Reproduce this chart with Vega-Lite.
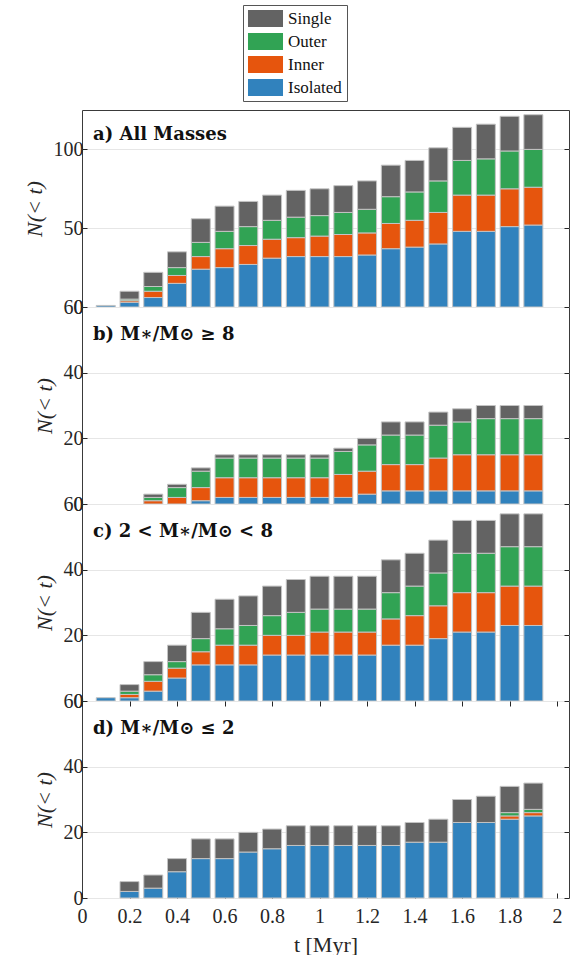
{
  "$schema": "https://vega.github.io/schema/vega-lite/v6.json",
  "padding": {"left": 22, "top": 4, "right": 4, "bottom": 3},
  "spacing": 0,
  "bounds": "flush",
  "data": {"values": [
    {"p":"a","t":0.1,"c":"Isolated","n":1},
    {"p":"a","t":0.2,"c":"Isolated","n":3},{"p":"a","t":0.2,"c":"Inner","n":1},{"p":"a","t":0.2,"c":"Outer","n":1},{"p":"a","t":0.2,"c":"Single","n":5},
    {"p":"a","t":0.3,"c":"Isolated","n":6},{"p":"a","t":0.3,"c":"Inner","n":4},{"p":"a","t":0.3,"c":"Outer","n":3},{"p":"a","t":0.3,"c":"Single","n":9},
    {"p":"a","t":0.4,"c":"Isolated","n":15},{"p":"a","t":0.4,"c":"Inner","n":5},{"p":"a","t":0.4,"c":"Outer","n":5},{"p":"a","t":0.4,"c":"Single","n":10},
    {"p":"a","t":0.5,"c":"Isolated","n":24},{"p":"a","t":0.5,"c":"Inner","n":8},{"p":"a","t":0.5,"c":"Outer","n":9},{"p":"a","t":0.5,"c":"Single","n":15},
    {"p":"a","t":0.6,"c":"Isolated","n":25},{"p":"a","t":0.6,"c":"Inner","n":12},{"p":"a","t":0.6,"c":"Outer","n":11},{"p":"a","t":0.6,"c":"Single","n":16},
    {"p":"a","t":0.7,"c":"Isolated","n":27},{"p":"a","t":0.7,"c":"Inner","n":12},{"p":"a","t":0.7,"c":"Outer","n":12},{"p":"a","t":0.7,"c":"Single","n":16},
    {"p":"a","t":0.8,"c":"Isolated","n":31},{"p":"a","t":0.8,"c":"Inner","n":12},{"p":"a","t":0.8,"c":"Outer","n":12},{"p":"a","t":0.8,"c":"Single","n":16},
    {"p":"a","t":0.9,"c":"Isolated","n":32},{"p":"a","t":0.9,"c":"Inner","n":12},{"p":"a","t":0.9,"c":"Outer","n":13},{"p":"a","t":0.9,"c":"Single","n":17},
    {"p":"a","t":1.0,"c":"Isolated","n":32},{"p":"a","t":1.0,"c":"Inner","n":13},{"p":"a","t":1.0,"c":"Outer","n":13},{"p":"a","t":1.0,"c":"Single","n":17},
    {"p":"a","t":1.1,"c":"Isolated","n":32},{"p":"a","t":1.1,"c":"Inner","n":14},{"p":"a","t":1.1,"c":"Outer","n":14},{"p":"a","t":1.1,"c":"Single","n":17},
    {"p":"a","t":1.2,"c":"Isolated","n":33},{"p":"a","t":1.2,"c":"Inner","n":14},{"p":"a","t":1.2,"c":"Outer","n":15},{"p":"a","t":1.2,"c":"Single","n":18},
    {"p":"a","t":1.3,"c":"Isolated","n":37},{"p":"a","t":1.3,"c":"Inner","n":16},{"p":"a","t":1.3,"c":"Outer","n":17},{"p":"a","t":1.3,"c":"Single","n":20},
    {"p":"a","t":1.4,"c":"Isolated","n":38},{"p":"a","t":1.4,"c":"Inner","n":17},{"p":"a","t":1.4,"c":"Outer","n":18},{"p":"a","t":1.4,"c":"Single","n":20},
    {"p":"a","t":1.5,"c":"Isolated","n":40},{"p":"a","t":1.5,"c":"Inner","n":20},{"p":"a","t":1.5,"c":"Outer","n":20},{"p":"a","t":1.5,"c":"Single","n":21},
    {"p":"a","t":1.6,"c":"Isolated","n":48},{"p":"a","t":1.6,"c":"Inner","n":23},{"p":"a","t":1.6,"c":"Outer","n":22},{"p":"a","t":1.6,"c":"Single","n":21},
    {"p":"a","t":1.7,"c":"Isolated","n":48},{"p":"a","t":1.7,"c":"Inner","n":23},{"p":"a","t":1.7,"c":"Outer","n":23},{"p":"a","t":1.7,"c":"Single","n":22},
    {"p":"a","t":1.8,"c":"Isolated","n":51},{"p":"a","t":1.8,"c":"Inner","n":24},{"p":"a","t":1.8,"c":"Outer","n":24},{"p":"a","t":1.8,"c":"Single","n":22},
    {"p":"a","t":1.9,"c":"Isolated","n":52},{"p":"a","t":1.9,"c":"Inner","n":24},{"p":"a","t":1.9,"c":"Outer","n":24},{"p":"a","t":1.9,"c":"Single","n":22},

    {"p":"b","t":0.3,"c":"Inner","n":1},{"p":"b","t":0.3,"c":"Outer","n":1},{"p":"b","t":0.3,"c":"Single","n":1},
    {"p":"b","t":0.4,"c":"Inner","n":2},{"p":"b","t":0.4,"c":"Outer","n":3},{"p":"b","t":0.4,"c":"Single","n":1},
    {"p":"b","t":0.5,"c":"Isolated","n":1},{"p":"b","t":0.5,"c":"Inner","n":4},{"p":"b","t":0.5,"c":"Outer","n":5},{"p":"b","t":0.5,"c":"Single","n":1},
    {"p":"b","t":0.6,"c":"Isolated","n":2},{"p":"b","t":0.6,"c":"Inner","n":6},{"p":"b","t":0.6,"c":"Outer","n":6},{"p":"b","t":0.6,"c":"Single","n":1},
    {"p":"b","t":0.7,"c":"Isolated","n":2},{"p":"b","t":0.7,"c":"Inner","n":6},{"p":"b","t":0.7,"c":"Outer","n":6},{"p":"b","t":0.7,"c":"Single","n":1},
    {"p":"b","t":0.8,"c":"Isolated","n":2},{"p":"b","t":0.8,"c":"Inner","n":6},{"p":"b","t":0.8,"c":"Outer","n":6},{"p":"b","t":0.8,"c":"Single","n":1},
    {"p":"b","t":0.9,"c":"Isolated","n":2},{"p":"b","t":0.9,"c":"Inner","n":6},{"p":"b","t":0.9,"c":"Outer","n":6},{"p":"b","t":0.9,"c":"Single","n":1},
    {"p":"b","t":1.0,"c":"Isolated","n":2},{"p":"b","t":1.0,"c":"Inner","n":6},{"p":"b","t":1.0,"c":"Outer","n":6},{"p":"b","t":1.0,"c":"Single","n":1},
    {"p":"b","t":1.1,"c":"Isolated","n":2},{"p":"b","t":1.1,"c":"Inner","n":7},{"p":"b","t":1.1,"c":"Outer","n":7},{"p":"b","t":1.1,"c":"Single","n":1},
    {"p":"b","t":1.2,"c":"Isolated","n":3},{"p":"b","t":1.2,"c":"Inner","n":7},{"p":"b","t":1.2,"c":"Outer","n":8},{"p":"b","t":1.2,"c":"Single","n":2},
    {"p":"b","t":1.3,"c":"Isolated","n":4},{"p":"b","t":1.3,"c":"Inner","n":8},{"p":"b","t":1.3,"c":"Outer","n":9},{"p":"b","t":1.3,"c":"Single","n":4},
    {"p":"b","t":1.4,"c":"Isolated","n":4},{"p":"b","t":1.4,"c":"Inner","n":8},{"p":"b","t":1.4,"c":"Outer","n":9},{"p":"b","t":1.4,"c":"Single","n":4},
    {"p":"b","t":1.5,"c":"Isolated","n":4},{"p":"b","t":1.5,"c":"Inner","n":10},{"p":"b","t":1.5,"c":"Outer","n":10},{"p":"b","t":1.5,"c":"Single","n":4},
    {"p":"b","t":1.6,"c":"Isolated","n":4},{"p":"b","t":1.6,"c":"Inner","n":11},{"p":"b","t":1.6,"c":"Outer","n":10},{"p":"b","t":1.6,"c":"Single","n":4},
    {"p":"b","t":1.7,"c":"Isolated","n":4},{"p":"b","t":1.7,"c":"Inner","n":11},{"p":"b","t":1.7,"c":"Outer","n":11},{"p":"b","t":1.7,"c":"Single","n":4},
    {"p":"b","t":1.8,"c":"Isolated","n":4},{"p":"b","t":1.8,"c":"Inner","n":11},{"p":"b","t":1.8,"c":"Outer","n":11},{"p":"b","t":1.8,"c":"Single","n":4},
    {"p":"b","t":1.9,"c":"Isolated","n":4},{"p":"b","t":1.9,"c":"Inner","n":11},{"p":"b","t":1.9,"c":"Outer","n":11},{"p":"b","t":1.9,"c":"Single","n":4},

    {"p":"c","t":0.1,"c":"Isolated","n":1},
    {"p":"c","t":0.2,"c":"Isolated","n":1},{"p":"c","t":0.2,"c":"Inner","n":1},{"p":"c","t":0.2,"c":"Outer","n":1},{"p":"c","t":0.2,"c":"Single","n":2},
    {"p":"c","t":0.3,"c":"Isolated","n":3},{"p":"c","t":0.3,"c":"Inner","n":3},{"p":"c","t":0.3,"c":"Outer","n":2},{"p":"c","t":0.3,"c":"Single","n":4},
    {"p":"c","t":0.4,"c":"Isolated","n":7},{"p":"c","t":0.4,"c":"Inner","n":3},{"p":"c","t":0.4,"c":"Outer","n":2},{"p":"c","t":0.4,"c":"Single","n":5},
    {"p":"c","t":0.5,"c":"Isolated","n":11},{"p":"c","t":0.5,"c":"Inner","n":4},{"p":"c","t":0.5,"c":"Outer","n":4},{"p":"c","t":0.5,"c":"Single","n":8},
    {"p":"c","t":0.6,"c":"Isolated","n":11},{"p":"c","t":0.6,"c":"Inner","n":6},{"p":"c","t":0.6,"c":"Outer","n":5},{"p":"c","t":0.6,"c":"Single","n":9},
    {"p":"c","t":0.7,"c":"Isolated","n":11},{"p":"c","t":0.7,"c":"Inner","n":6},{"p":"c","t":0.7,"c":"Outer","n":6},{"p":"c","t":0.7,"c":"Single","n":9},
    {"p":"c","t":0.8,"c":"Isolated","n":14},{"p":"c","t":0.8,"c":"Inner","n":6},{"p":"c","t":0.8,"c":"Outer","n":6},{"p":"c","t":0.8,"c":"Single","n":9},
    {"p":"c","t":0.9,"c":"Isolated","n":14},{"p":"c","t":0.9,"c":"Inner","n":6},{"p":"c","t":0.9,"c":"Outer","n":7},{"p":"c","t":0.9,"c":"Single","n":10},
    {"p":"c","t":1.0,"c":"Isolated","n":14},{"p":"c","t":1.0,"c":"Inner","n":7},{"p":"c","t":1.0,"c":"Outer","n":7},{"p":"c","t":1.0,"c":"Single","n":10},
    {"p":"c","t":1.1,"c":"Isolated","n":14},{"p":"c","t":1.1,"c":"Inner","n":7},{"p":"c","t":1.1,"c":"Outer","n":7},{"p":"c","t":1.1,"c":"Single","n":10},
    {"p":"c","t":1.2,"c":"Isolated","n":14},{"p":"c","t":1.2,"c":"Inner","n":7},{"p":"c","t":1.2,"c":"Outer","n":7},{"p":"c","t":1.2,"c":"Single","n":10},
    {"p":"c","t":1.3,"c":"Isolated","n":17},{"p":"c","t":1.3,"c":"Inner","n":8},{"p":"c","t":1.3,"c":"Outer","n":8},{"p":"c","t":1.3,"c":"Single","n":10},
    {"p":"c","t":1.4,"c":"Isolated","n":17},{"p":"c","t":1.4,"c":"Inner","n":9},{"p":"c","t":1.4,"c":"Outer","n":9},{"p":"c","t":1.4,"c":"Single","n":10},
    {"p":"c","t":1.5,"c":"Isolated","n":19},{"p":"c","t":1.5,"c":"Inner","n":10},{"p":"c","t":1.5,"c":"Outer","n":10},{"p":"c","t":1.5,"c":"Single","n":10},
    {"p":"c","t":1.6,"c":"Isolated","n":21},{"p":"c","t":1.6,"c":"Inner","n":12},{"p":"c","t":1.6,"c":"Outer","n":12},{"p":"c","t":1.6,"c":"Single","n":10},
    {"p":"c","t":1.7,"c":"Isolated","n":21},{"p":"c","t":1.7,"c":"Inner","n":12},{"p":"c","t":1.7,"c":"Outer","n":12},{"p":"c","t":1.7,"c":"Single","n":10},
    {"p":"c","t":1.8,"c":"Isolated","n":23},{"p":"c","t":1.8,"c":"Inner","n":12},{"p":"c","t":1.8,"c":"Outer","n":12},{"p":"c","t":1.8,"c":"Single","n":10},
    {"p":"c","t":1.9,"c":"Isolated","n":23},{"p":"c","t":1.9,"c":"Inner","n":12},{"p":"c","t":1.9,"c":"Outer","n":12},{"p":"c","t":1.9,"c":"Single","n":10},

    {"p":"d","t":0.2,"c":"Isolated","n":2},{"p":"d","t":0.2,"c":"Single","n":3},
    {"p":"d","t":0.3,"c":"Isolated","n":3},{"p":"d","t":0.3,"c":"Single","n":4},
    {"p":"d","t":0.4,"c":"Isolated","n":8},{"p":"d","t":0.4,"c":"Single","n":4},
    {"p":"d","t":0.5,"c":"Isolated","n":12},{"p":"d","t":0.5,"c":"Single","n":6},
    {"p":"d","t":0.6,"c":"Isolated","n":12},{"p":"d","t":0.6,"c":"Single","n":6},
    {"p":"d","t":0.7,"c":"Isolated","n":14},{"p":"d","t":0.7,"c":"Single","n":6},
    {"p":"d","t":0.8,"c":"Isolated","n":15},{"p":"d","t":0.8,"c":"Single","n":6},
    {"p":"d","t":0.9,"c":"Isolated","n":16},{"p":"d","t":0.9,"c":"Single","n":6},
    {"p":"d","t":1.0,"c":"Isolated","n":16},{"p":"d","t":1.0,"c":"Single","n":6},
    {"p":"d","t":1.1,"c":"Isolated","n":16},{"p":"d","t":1.1,"c":"Single","n":6},
    {"p":"d","t":1.2,"c":"Isolated","n":16},{"p":"d","t":1.2,"c":"Single","n":6},
    {"p":"d","t":1.3,"c":"Isolated","n":16},{"p":"d","t":1.3,"c":"Single","n":6},
    {"p":"d","t":1.4,"c":"Isolated","n":17},{"p":"d","t":1.4,"c":"Single","n":6},
    {"p":"d","t":1.5,"c":"Isolated","n":17},{"p":"d","t":1.5,"c":"Single","n":7},
    {"p":"d","t":1.6,"c":"Isolated","n":23},{"p":"d","t":1.6,"c":"Single","n":7},
    {"p":"d","t":1.7,"c":"Isolated","n":23},{"p":"d","t":1.7,"c":"Single","n":8},
    {"p":"d","t":1.8,"c":"Isolated","n":24},{"p":"d","t":1.8,"c":"Inner","n":1},{"p":"d","t":1.8,"c":"Outer","n":1},{"p":"d","t":1.8,"c":"Single","n":8},
    {"p":"d","t":1.9,"c":"Isolated","n":25},{"p":"d","t":1.9,"c":"Inner","n":1},{"p":"d","t":1.9,"c":"Outer","n":1},{"p":"d","t":1.9,"c":"Single","n":8}
  ]},
  "transform": [{"calculate": "indexof(['Isolated','Inner','Outer','Single'], datum.c)", "as": "stackRank"}],
  "vconcat": [
    {
      "width": 487, "height": 197,
      "title": {"text": "a) All Masses", "offset": -34},
      "transform": [{"filter": "datum.p == 'a'"}],
      "layer": [
        {"mark": {"type": "bar", "width": 19, "stroke": "#c4c4c4", "strokeWidth": 1},
         "encoding": {
           "x": {"field": "t", "type": "quantitative", "scale": {"domain": [0, 2.05], "padding": 0}, "axis": null},
           "y": {"field": "n", "type": "quantitative", "stack": "zero", "scale": {"domain": [0, 125]},
                 "axis": {"orient": "left", "values": [0, 50, 100], "grid": true, "title": "N(< t)"}},
           "order": {"field": "stackRank", "type": "quantitative", "sort": "ascending"},
           "color": {"field": "c", "type": "nominal",
                     "scale": {"domain": ["Single", "Outer", "Inner", "Isolated"], "range": ["#636363", "#31a354", "#e6550d", "#3182bd"]},
                     "legend": {"values": ["Single", "Outer", "Inner", "Isolated"], "orient": "none", "legendX": 161, "legendY": -105, "labelFont": "Liberation Serif"}}
         }},
        {"mark": {"type": "bar", "width": 19, "opacity": 0},
         "encoding": {
           "x": {"field": "t", "type": "quantitative", "scale": {"domain": [0, 2.05], "padding": 0}, "axis": null},
           "y": {"field": "n", "type": "quantitative", "stack": null, "scale": {"domain": [0, 125]},
                 "axis": {"orient": "right", "values": [0, 50, 100], "labels": false, "grid": false, "title": null}}
         }}
      ],
      "resolve": {"axis": {"y": "independent"}}
    },
    {
      "width": 487, "height": 197,
      "title": {"text": "b) M∗/M⊙ ≥ 8", "offset": -47},
      "transform": [{"filter": "datum.p == 'b'"}],
      "layer": [
        {"mark": {"type": "bar", "width": 19, "stroke": "#c4c4c4", "strokeWidth": 1},
         "encoding": {
           "x": {"field": "t", "type": "quantitative", "scale": {"domain": [0, 2.05], "padding": 0}, "axis": null},
           "y": {"field": "n", "type": "quantitative", "stack": "zero", "scale": {"domain": [0, 60]},
                 "axis": {"orient": "left", "values": [0, 20, 40, 60], "grid": true, "title": "N(< t)"}},
           "order": {"field": "stackRank", "type": "quantitative", "sort": "ascending"},
           "color": {"field": "c", "type": "nominal",
                     "scale": {"domain": ["Single", "Outer", "Inner", "Isolated"], "range": ["#636363", "#31a354", "#e6550d", "#3182bd"]},
                     "legend": {"values": ["Single", "Outer", "Inner", "Isolated"], "orient": "none", "legendX": 161, "legendY": -105, "labelFont": "Liberation Serif"}}
         }},
        {"mark": {"type": "bar", "width": 19, "opacity": 0},
         "encoding": {
           "x": {"field": "t", "type": "quantitative", "scale": {"domain": [0, 2.05], "padding": 0}, "axis": null},
           "y": {"field": "n", "type": "quantitative", "stack": null, "scale": {"domain": [0, 60]},
                 "axis": {"orient": "right", "values": [0, 20, 40, 60], "labels": false, "grid": false, "title": null}}
         }}
      ],
      "resolve": {"axis": {"y": "independent"}}
    },
    {
      "width": 487, "height": 197,
      "title": {"text": "c) 2 < M∗/M⊙ < 8", "offset": -47},
      "transform": [{"filter": "datum.p == 'c'"}],
      "layer": [
        {"mark": {"type": "bar", "width": 19, "stroke": "#c4c4c4", "strokeWidth": 1},
         "encoding": {
           "x": {"field": "t", "type": "quantitative", "scale": {"domain": [0, 2.05], "padding": 0}, "axis": null},
           "y": {"field": "n", "type": "quantitative", "stack": "zero", "scale": {"domain": [0, 60]},
                 "axis": {"orient": "left", "values": [0, 20, 40, 60], "grid": true, "title": "N(< t)"}},
           "order": {"field": "stackRank", "type": "quantitative", "sort": "ascending"},
           "color": {"field": "c", "type": "nominal",
                     "scale": {"domain": ["Single", "Outer", "Inner", "Isolated"], "range": ["#636363", "#31a354", "#e6550d", "#3182bd"]},
                     "legend": {"values": ["Single", "Outer", "Inner", "Isolated"], "orient": "none", "legendX": 161, "legendY": -105, "labelFont": "Liberation Serif"}}
         }},
        {"mark": {"type": "bar", "width": 19, "opacity": 0},
         "encoding": {
           "x": {"field": "t", "type": "quantitative", "scale": {"domain": [0, 2.05], "padding": 0}, "axis": null},
           "y": {"field": "n", "type": "quantitative", "stack": null, "scale": {"domain": [0, 60]},
                 "axis": {"orient": "right", "values": [0, 20, 40, 60], "labels": false, "grid": false, "title": null}}
         }}
      ],
      "resolve": {"axis": {"y": "independent"}}
    },
    {
      "width": 487, "height": 197,
      "title": {"text": "d) M∗/M⊙ ≤ 2", "offset": -47},
      "transform": [{"filter": "datum.p == 'd'"}],
      "layer": [
        {"mark": {"type": "bar", "width": 19, "stroke": "#c4c4c4", "strokeWidth": 1},
         "encoding": {
           "x": {"field": "t", "type": "quantitative", "scale": {"domain": [0, 2.05], "padding": 0},
                 "axis": {"orient": "bottom", "values": [0, 0.2, 0.4, 0.6, 0.8, 1, 1.2, 1.4, 1.6, 1.8, 2], "format": "~g", "grid": false, "title": "t [Myr]", "labelPadding": 13, "titlePadding": 8}},
           "y": {"field": "n", "type": "quantitative", "stack": "zero", "scale": {"domain": [0, 60]},
                 "axis": {"orient": "left", "values": [0, 20, 40, 60], "grid": true, "title": "N(< t)"}},
           "order": {"field": "stackRank", "type": "quantitative", "sort": "ascending"},
           "color": {"field": "c", "type": "nominal",
                     "scale": {"domain": ["Single", "Outer", "Inner", "Isolated"], "range": ["#636363", "#31a354", "#e6550d", "#3182bd"]},
                     "legend": {"values": ["Single", "Outer", "Inner", "Isolated"], "orient": "none", "legendX": 161, "legendY": -105, "labelFont": "Liberation Serif"}}
         }},
        {"mark": {"type": "bar", "width": 19, "opacity": 0},
         "encoding": {
           "x": {"field": "t", "type": "quantitative", "scale": {"domain": [0, 2.05], "padding": 0},
                 "axis": {"orient": "top", "values": [0, 0.2, 0.4, 0.6, 0.8, 1, 1.2, 1.4, 1.6, 1.8, 2], "labels": false, "grid": false, "title": null}},
           "y": {"field": "n", "type": "quantitative", "stack": null, "scale": {"domain": [0, 60]},
                 "axis": {"orient": "right", "values": [0, 20, 40, 60], "labels": false, "grid": false, "title": null}}
         }}
      ],
      "resolve": {"axis": {"y": "independent", "x": "independent"}}
    }
  ],
  "config": {
    "view": {"stroke": "#3a3a3a", "strokeWidth": 1},
    "concat": {"spacing": 0},
    "axis": {
      "labelFont": "Liberation Serif", "labelFontSize": 20, "labelColor": "#262626",
      "tickColor": "#262626", "tickSize": -5, "labelPadding": 4, "domain": false,
      "gridColor": "#e6e6e6", "labelFlush": false, "labelOverlap": false,
      "titleFont": "Liberation Serif", "titleFontSize": 22, "titleFontWeight": "normal", "titleColor": "#262626"
    },
    "axisLeft": {"titleFontStyle": "italic", "titlePadding": 7},
    "title": {"anchor": "start", "frame": "group", "dx": 11, "baseline": "top",
              "font": "DejaVu Serif", "fontSize": 18, "fontWeight": "bold", "color": "#111111"},
    "legend": {
      "title": null, "direction": "vertical",
      "symbolType": "M-2.06,-1H2.06V1H-2.06Z", "symbolSize": 289, "symbolOffset": 9, "symbolStrokeWidth": 0, "symbolOpacity": 1,
      "labelFont": "Liberation Serif", "labelFontSize": 17, "labelColor": "#111111", "labelOffset": 14,
      "strokeColor": "#555555", "fillColor": "white", "padding": 5, "rowPadding": 5
    }
  }
}
